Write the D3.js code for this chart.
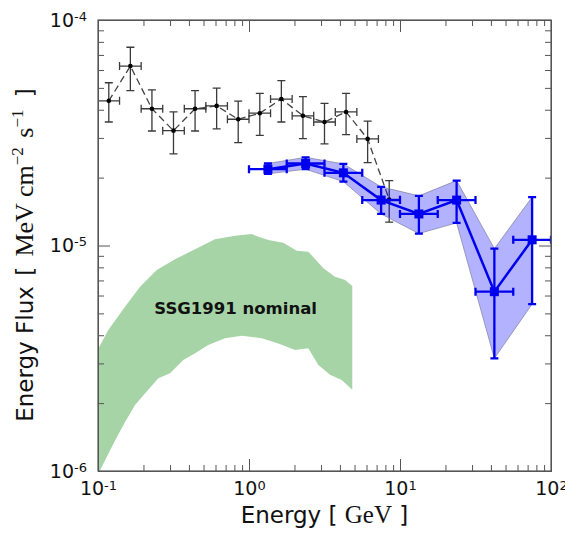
<!DOCTYPE html>
<html>
<head>
<script src="https://d3js.org/d3.v7.min.js"></script>
<style>
  body { margin: 0; background: #fff; }
  svg { font-family: "DejaVu Sans", sans-serif; }
  .frame line, .frame path { stroke: #555; }
</style>
</head>
<body>
<svg width="565" height="534"></svg>
<script>
// Fermi-LAT points (black, dashed)
var latE   = [0.1179, 0.1638, 0.2276, 0.3162, 0.4394, 0.6105, 0.8483, 1.179, 1.638, 2.276, 3.162, 4.394, 6.105, 8.483];
var latElo = [0.1, 0.1389, 0.1931, 0.2683, 0.3728, 0.5179, 0.7197, 1.0, 1.389, 1.931, 2.683, 3.728, 5.179, 7.197];
var latEhi = [0.1389, 0.1931, 0.2683, 0.3728, 0.5179, 0.7197, 1.0, 1.389, 1.931, 2.683, 3.728, 5.179, 7.197, 10];
var latF   = [4.38e-5, 6.25e-5, 4.04e-5, 3.23e-5, 4.04e-5, 4.16e-5, 3.63e-5, 3.86e-5, 4.46e-5, 3.76e-5, 3.53e-5, 3.91e-5, 2.97e-5, 1.60e-5];
var latFhi = [5.27e-5, 7.57e-5, 4.90e-5, 3.91e-5, 4.86e-5, 4.99e-5, 4.37e-5, 4.73e-5, 5.38e-5, 4.57e-5, 4.27e-5, 4.73e-5, 3.56e-5, 1.94e-5];
var latFlo = [3.53e-5, 4.86e-5, 3.22e-5, 2.55e-5, 3.22e-5, 3.29e-5, 2.86e-5, 3.08e-5, 3.53e-5, 2.98e-5, 2.82e-5, 3.10e-5, 2.33e-5, 1.27e-5];

// blue points with band
var blueE   = [1.334, 2.371, 4.217, 7.499, 13.34, 23.71, 42.17, 74.99];
var blueElo = [1.0, 1.778, 3.162, 5.623, 10, 17.78, 31.62, 56.23];
var blueEhi = [1.778, 3.162, 5.623, 10, 17.78, 31.62, 56.23, 100];
var blueF   = [2.18e-5, 2.31e-5, 2.10e-5, 1.59e-5, 1.38e-5, 1.59e-5, 6.24e-6, 1.06e-5];
var blueFhi = [2.31e-5, 2.46e-5, 2.30e-5, 1.82e-5, 1.66e-5, 1.94e-5, 9.68e-6, 1.64e-5];
var blueFlo = [2.08e-5, 2.18e-5, 1.92e-5, 1.38e-5, 1.13e-5, 1.26e-5, 3.16e-6, 5.50e-6];

// SSG1991 nominal band (green)
var ssgUpE = [0.1, 0.117, 0.151, 0.190, 0.245, 0.324, 0.439, 0.595, 0.807, 1.042, 1.153, 1.343, 1.687, 2.07, 2.47, 3.11, 3.71, 4.33, 4.83];
var ssgUpF = [3.47e-6, 4.22e-6, 5.35e-6, 6.57e-6, 7.79e-6, 8.69e-6, 9.62e-6, 1.065e-5, 1.105e-5, 1.125e-5, 1.094e-5, 1.058e-5, 1.029e-5, 9.48e-6, 9.39e-6, 7.92e-6, 7.27e-6, 7.03e-6, 6.61e-6];
var ssgLoE = [0.1, 0.106, 0.130, 0.151, 0.176, 0.215, 0.251, 0.300, 0.367, 0.439, 0.537, 0.693, 0.895, 1.214, 1.564, 2.02, 2.47, 2.88, 3.44, 4.11, 4.83];
var ssgLoF = [0.96e-6, 1.045e-6, 1.37e-6, 1.65e-6, 1.96e-6, 2.29e-6, 2.58e-6, 2.71e-6, 3.11e-6, 3.33e-6, 3.62e-6, 3.88e-6, 3.98e-6, 3.88e-6, 3.68e-6, 3.44e-6, 3.50e-6, 2.95e-6, 2.67e-6, 2.53e-6, 2.29e-6];

// ticks
var xMajor = [0.1, 1, 10, 100];
var xExp   = ["-1", "0", "1", "2"];
var yMajor = [1e-6, 1e-5, 1e-4];
var yExp   = ["-6", "-5", "-4"];
var mant   = [2, 3, 4, 5, 6, 7, 8, 9];

var svg = d3.select("svg");
var padding = {top: 20, right: 14, bottom: 63, left: 98};
var w = 565 - padding.left - padding.right,
    h = 534 - padding.top - padding.bottom;

var x = d3.scaleLog().domain([0.1, 100]).range([0, w]);
var y = d3.scaleLog().domain([1e-6, 1e-4]).range([h, 0]);

var xMinor = [], yMinor = [];
xMajor.slice(0, -1).forEach(function(d) { mant.forEach(function(m) { xMinor.push(d * m); }); });
yMajor.slice(0, -1).forEach(function(d) { mant.forEach(function(m) { yMinor.push(d * m); }); });

var g = svg.append("g").attr("transform", "translate(" + padding.left + "," + padding.top + ")");

svg.append("defs").append("clipPath").attr("id", "clip")
   .append("rect").attr("width", w).attr("height", h);

var plot = g.append("g").attr("clip-path", "url(#clip)");

// green band
var ssgPts = ssgUpE.map(function(e, i) { return [x(e), y(ssgUpF[i])]; });
for (var i = ssgLoE.length - 1; i >= 0; i--) ssgPts.push([x(ssgLoE[i]), y(ssgLoF[i])]);
plot.append("path")
    .attr("d", "M" + ssgPts.join("L") + "Z")
    .attr("fill", "#a6d4a6");

plot.append("text")
    .attr("x", x(0.236)).attr("y", y(4.97e-6))
    .attr("font-size", "16.5px").attr("font-weight", "bold").attr("fill", "#111")
    .text("SSG1991 nominal");

// black dashed points
var line = d3.line().x(function(d) { return x(d[0]); }).y(function(d) { return y(d[1]); });
plot.append("path")
    .datum(latE.map(function(e, i) { return [e, latF[i]]; }))
    .attr("d", line)
    .attr("fill", "none").attr("stroke", "#444").attr("stroke-width", 1.3)
    .attr("stroke-dasharray", "7,4");

function errorbars(layer, E, Elo, Ehi, F, Flo, Fhi, color, sw, cap) {
  var gg = layer.append("g").attr("stroke", color).attr("stroke-width", sw).attr("fill", "none");
  E.forEach(function(e, i) {
    var cx = x(e), cy = y(F[i]);
    var p = "M" + x(Elo[i]) + "," + cy + "H" + x(Ehi[i]) +
            "M" + x(Elo[i]) + "," + (cy - cap) + "V" + (cy + cap) +
            "M" + x(Ehi[i]) + "," + (cy - cap) + "V" + (cy + cap) +
            "M" + cx + "," + y(Flo[i]) + "V" + y(Fhi[i]) +
            "M" + (cx - cap) + "," + y(Flo[i]) + "H" + (cx + cap) +
            "M" + (cx - cap) + "," + y(Fhi[i]) + "H" + (cx + cap);
    gg.append("path").attr("d", p);
  });
}

errorbars(plot, latE, latElo, latEhi, latF, latFlo, latFhi, "#3a3a3a", 1.3, 4);
plot.append("g").selectAll("circle")
    .data(latE).enter().append("circle")
    .attr("cx", function(d) { return x(d); })
    .attr("cy", function(d, i) { return y(latF[i]); })
    .attr("r", 2.3).attr("fill", "#000");

// blue band
var bandPts = blueE.map(function(e, i) { return [x(e), y(blueFhi[i])]; });
for (var j = blueE.length - 1; j >= 0; j--) bandPts.push([x(blueE[j]), y(blueFlo[j])]);
plot.append("path")
    .attr("d", "M" + bandPts.join("L") + "Z")
    .attr("fill", "#0000ff").attr("fill-opacity", 0.3)
    .attr("stroke", "#8888aa").attr("stroke-width", 0.8);

plot.append("path")
    .datum(blueE.map(function(e, i) { return [e, blueF[i]]; }))
    .attr("d", line)
    .attr("fill", "none").attr("stroke", "#0000ee").attr("stroke-width", 2.5);

errorbars(plot, blueE, blueElo, blueEhi, blueF, blueFlo, blueFhi, "#0000ee", 2.3, 4);
plot.append("g").selectAll("rect")
    .data(blueE).enter().append("rect")
    .attr("x", function(d) { return x(d) - 4.5; })
    .attr("y", function(d, i) { return y(blueF[i]) - 4.5; })
    .attr("width", 9).attr("height", 9).attr("fill", "#0000ee");

// axes: ticks inward on all four sides
function sup(sel, exps) {
  sel.selectAll(".tick text").each(function(d, i) {
    var t = d3.select(this).text("");
    t.append("tspan").text("10");
    t.append("tspan").attr("dy", "-0.45em").attr("font-size", "13px").text(exps[i]);
  });
}

var bottom = g.append("g").attr("class", "frame").attr("transform", "translate(0," + h + ")");
bottom.call(d3.axisBottom(x).tickValues(xMinor).tickSize(-6).tickFormat("").tickSizeOuter(0));
var bMaj = g.append("g").attr("class", "frame").attr("transform", "translate(0," + h + ")")
    .call(d3.axisBottom(x).tickValues(xMajor).tickSize(-12).tickPadding(11).tickFormat(function() { return "10"; }).tickSizeOuter(0));
bMaj.selectAll("text").attr("font-size", "19px").attr("fill", "#111").attr("font-family", "DejaVu Sans");
sup(bMaj, xExp);

g.append("g").attr("class", "frame")
    .call(d3.axisTop(x).tickValues(xMinor).tickSize(-6).tickFormat("").tickSizeOuter(0));
g.append("g").attr("class", "frame")
    .call(d3.axisTop(x).tickValues(xMajor).tickSize(-12).tickFormat("").tickSizeOuter(0));

g.append("g").attr("class", "frame")
    .call(d3.axisLeft(y).tickValues(yMinor).tickSize(-6).tickFormat("").tickSizeOuter(0));
var lMaj = g.append("g").attr("class", "frame")
    .call(d3.axisLeft(y).tickValues(yMajor).tickSize(-12).tickPadding(11).tickFormat(function() { return "10"; }).tickSizeOuter(0));
lMaj.selectAll("text").attr("font-size", "19px").attr("fill", "#111").attr("font-family", "DejaVu Sans");
sup(lMaj, yExp);

g.append("g").attr("class", "frame").attr("transform", "translate(" + w + ",0)")
    .call(d3.axisRight(y).tickValues(yMinor).tickSize(-6).tickFormat("").tickSizeOuter(0));
g.append("g").attr("class", "frame").attr("transform", "translate(" + w + ",0)")
    .call(d3.axisRight(y).tickValues(yMajor).tickSize(-12).tickFormat("").tickSizeOuter(0));

g.append("rect").attr("width", w).attr("height", h)
    .attr("fill", "none").attr("stroke", "#555").attr("stroke-width", 1.2);

// axis labels
var serif = "'Liberation Serif', 'DejaVu Serif', serif";
var xl = svg.append("text")
    .attr("x", padding.left + w / 2).attr("y", 523)
    .attr("text-anchor", "middle").attr("font-size", "23px").attr("fill", "#111");
xl.append("tspan").text("Energy [ ");
xl.append("tspan").attr("font-family", serif).attr("font-size", "25px").text("GeV");
xl.append("tspan").text(" ]");

var yl = svg.append("text")
    .attr("transform", "translate(33,255) rotate(-90)")
    .attr("text-anchor", "middle").attr("font-size", "23px").attr("fill", "#111");
yl.append("tspan").text("Energy Flux ");
yl.append("tspan").attr("dx", 3).text("[ ");
yl.append("tspan").attr("font-family", serif).attr("font-size", "26px").attr("dx", 3).text("MeV cm");
yl.append("tspan").attr("font-family", serif).attr("font-size", "17px").attr("dy", "-10").text("−2");
yl.append("tspan").attr("font-family", serif).attr("font-size", "26px").attr("dy", "10").attr("dx", 3).text(" s");
yl.append("tspan").attr("font-family", serif).attr("font-size", "17px").attr("dy", "-10").text("−1");
yl.append("tspan").attr("dy", "10").attr("dx", 5).text(" ]");
</script>
</body>
</html>
